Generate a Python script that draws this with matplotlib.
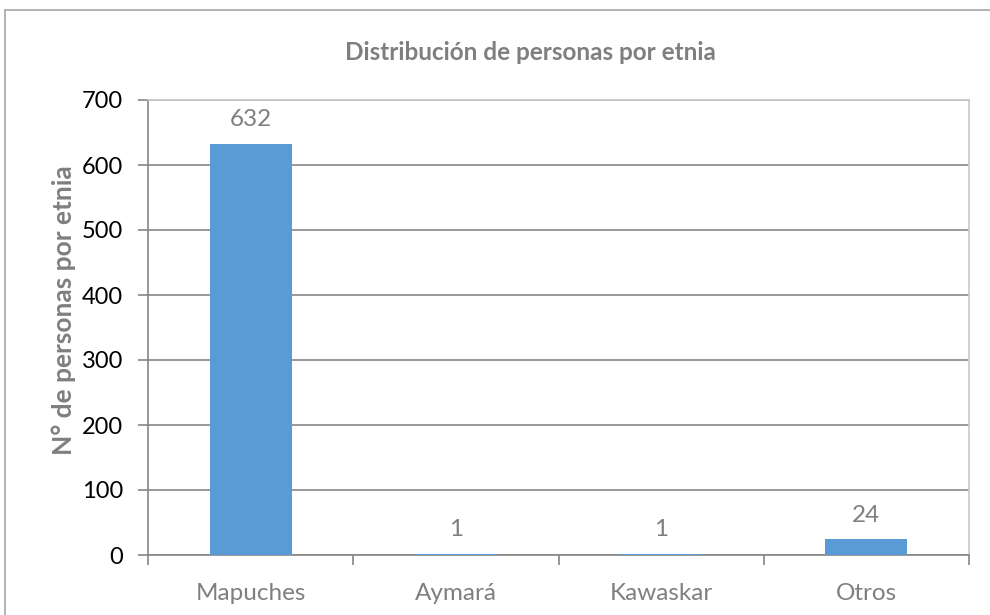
import matplotlib
matplotlib.use("Agg")
import matplotlib.pyplot as plt
from matplotlib.patches import Rectangle

categories = ["Mapuches", "Aymará", "Kawaskar", "Otros"]
values = [632, 1, 1, 24]
yticks = [0, 100, 200, 300, 400, 500, 600, 700]

plt.rcParams['font.family'] = ['Lato', 'DejaVu Sans']

fig = plt.figure(figsize=(9.9, 6.15), dpi=100)
fig.patch.set_facecolor("white")
# outer chart frame (only top & left visible)
fig.add_artist(Rectangle((5/990, -0.1), 1.2, 1 - 10/615 + 0.1, transform=fig.transFigure,
                         fill=False, edgecolor="#a6a6a6", linewidth=1.2))

ax = fig.add_axes([148/990, 1 - 555/615, (969 - 148)/990, (555 - 100)/615])
x = list(range(len(categories)))
ax.bar(x, values, width=0.4, color="#5B9BD5", zorder=3)
ax.set_xlim(-0.5, len(categories) - 0.5)
ax.set_ylim(0, 700)
ax.set_yticks(yticks)
ax.set_yticklabels([str(t) for t in yticks], fontsize=17, color="black")
ax.set_xticks([i - 0.5 for i in range(len(categories) + 1)])
ax.set_xticklabels([])
ax.set_xticks(x, minor=True)
ax.set_xticklabels(categories, minor=True, fontsize=17.5, color="#7f7f7f")
ax.tick_params(axis="x", which="minor", length=0, pad=20)
ax.tick_params(axis="x", which="major", length=7, color="#868686", width=1.2, direction="out")
ax.tick_params(axis="y", length=7, color="#868686", width=1.2, pad=11)
ax.yaxis.grid(True, color="#868686", linewidth=1.2, zorder=0)
for s in ["top", "right"]:
    ax.spines[s].set_color("#c8c8c8")
    ax.spines[s].set_linewidth(1.2)
for s in ["left", "bottom"]:
    ax.spines[s].set_color("#868686")
    ax.spines[s].set_linewidth(1.2)

for xi, v in zip(x, values):
    ax.annotate(str(v), (xi, v), xytext=(0, 10), textcoords="offset points",
                ha="center", va="bottom", fontsize=17.5, color="#7f7f7f")

ax.set_ylabel("N° de personas por etnia", fontsize=19, fontweight="bold",
              color="#7f7f7f")
ax.yaxis.set_label_coords((76 - 148) / 821, (555 - 310) / 455)
fig.text(530/990, 1 - 52/615, "Distribución de personas por etnia", ha="center", va="center",
         fontsize=17.5, fontweight="bold", color="#7f7f7f")

fig.savefig("out.png", dpi=100)
